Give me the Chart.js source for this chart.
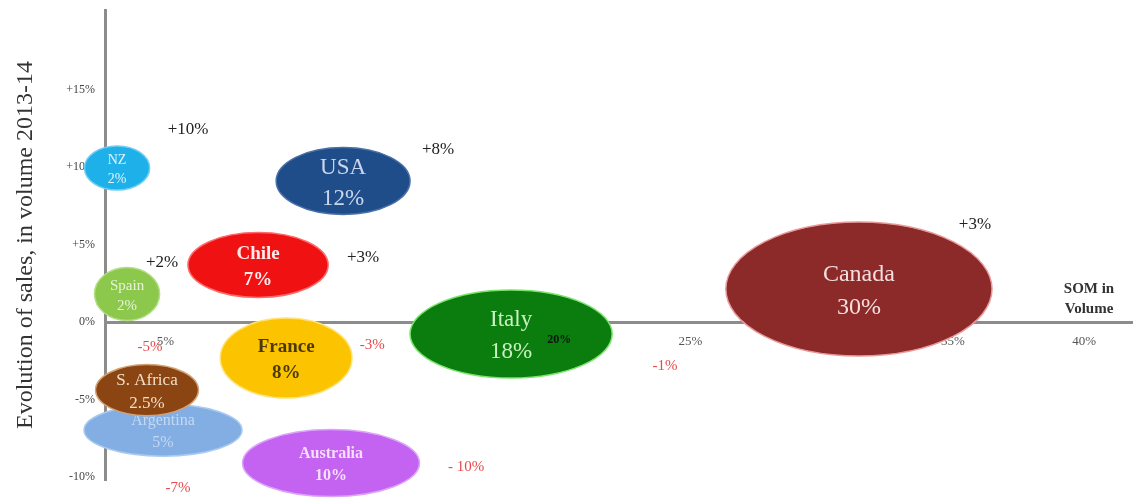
<!DOCTYPE html>
<html>
<head>
<meta charset="utf-8">
<script src="https://cdn.jsdelivr.net/npm/chart.js@4.4.1/dist/chart.umd.min.js"></script>
<style>
  html, body { margin: 0; padding: 0; background: #fff; }
</style>
</head>
<body>
<canvas id="somChart" width="1133" height="498"></canvas>
<script>
// ============================ data ============================

const countries    = ["NZ", "USA", "Chile", "Spain", "Italy", "Canada", "France", "Argentina", "S. Africa", "Australia"];
const shareLabels  = ["2%", "12%", "7%", "2%", "18%", "30%", "8%", "5%", "2.5%", "10%"];
const growthLabels = ["+10%", "+8%", "+3%", "+2%", "-1%", "+3%", "-3%", "-7%", "-5%", "- 10%"];

// bubble centre (SOM in volume, evolution in %) and half extents
const somX    = [3.16, 11.77, 8.53, 3.54, 18.17, 31.42, 9.6, 4.91, 4.3, 11.31];
const growthY = [9.94, 9.1, 3.68, 1.81, -0.77, 2.13, -2.32, -6.97, -4.39, -9.1];
const spanX   = [1.24, 2.55, 2.67, 1.24, 3.85, 5.07, 2.51, 3.01, 1.96, 3.37];
const spanY   = [1.42, 2.16, 2.10, 1.71, 2.84, 4.32, 2.58, 1.68, 1.65, 2.16];

const xTicks = [5, 20, 25, 35, 40];
const yTicks = [-10, -5, 0, 5, 10, 15];

// ============================ styles ============================

const SERIF = '"Liberation Serif", "DejaVu Serif", serif';
const fills      = ["#1eb0e8", "#1f4d8a", "#f01212", "#8cc84b", "#0b7d0f", "#8c2a2a", "#fcc400", "#82aee4", "#8a4512", "#c462f2"];
const edges      = ["#70ccf2", "#4a70a8", "#ff6a6a", "#b4de86", "#7ae46a", "#e89a9a", "#ffe27a", "#aacaf0", "#d4a274", "#dca6f8"];
const textColors = ["#dff3ff", "#c9d6ee", "#ffeaea", "#e6f3d8", "#c8f2c0", "#f6dede", "#4b3a05", "#c4d8f2", "#f3dfc9", "#f6e0fb"];
const fontSizes  = [14, 23, 19, 15, 23, 24, 19, 16, 17, 16];
const fontBold   = [false, false, true, false, false, false, true, false, false, true];
const labelDx    = [71, 95, 105, 35, 154, 116, 86, 15, 3, 135];
const labelDy    = [-38, -31, -7, -31, 32, -64, -13, 58, -43, 4];

// ============================ plugin: ellipses + notes ============================

const ellipsePlugin = {
  id: "ellipses",
  afterDatasetsDraw(chart) {
    const ctx = chart.ctx;
    const xs = chart.scales.x, ys = chart.scales.y;
    const meta = chart.getDatasetMeta(0);

    meta.data.forEach((pt, i) => {
      const rx = Math.abs(xs.getPixelForValue(somX[i] + spanX[i]) - pt.x);
      const ry = Math.abs(ys.getPixelForValue(growthY[i] + spanY[i]) - pt.y);
      ctx.save();
      ctx.beginPath();
      ctx.ellipse(pt.x, pt.y, rx, ry, 0, 0, Math.PI * 2);
      ctx.fillStyle = fills[i];
      ctx.fill();
      ctx.lineWidth = 1.5;
      ctx.strokeStyle = edges[i];
      ctx.stroke();

      const fs = fontSizes[i];
      const gap = fs * 1.35;
      ctx.font = (fontBold[i] ? "bold " : "") + fs + "px " + SERIF;
      ctx.fillStyle = textColors[i];
      ctx.textAlign = "center";
      ctx.textBaseline = "middle";
      ctx.fillText(countries[i], pt.x, pt.y - gap / 2 + 2);
      ctx.fillText(shareLabels[i], pt.x, pt.y + gap / 2 + 2);
      ctx.restore();
    });

    // growth notes next to each bubble
    meta.data.forEach((pt, i) => {
      const neg = growthLabels[i].startsWith("-");
      ctx.save();
      ctx.font = (neg ? "15px " : "17px ") + SERIF;
      ctx.fillStyle = neg ? "#e8484a" : "#222";
      ctx.textAlign = "center";
      ctx.textBaseline = "middle";
      ctx.fillText(growthLabels[i], pt.x + labelDx[i], pt.y + labelDy[i]);
      ctx.restore();
    });

    // the 20% tick sits on top of Italy in the original
    const y0 = ys.getPixelForValue(0);
    ctx.save();
    ctx.font = "bold 12px " + SERIF;
    ctx.fillStyle = "#111";
    ctx.textAlign = "center";
    ctx.textBaseline = "middle";
    ctx.fillText("20%", xs.getPixelForValue(20), y0 + 18);

    // axis name at the right end of the x axis
    ctx.font = "bold 15px " + SERIF;
    ctx.fillStyle = "#333";
    ctx.fillText("SOM in", xs.right - 44, y0 - 33);
    ctx.fillText("Volume", xs.right - 44, y0 - 13);
    ctx.restore();
  }
};

// ============================ chart ============================

new Chart(document.getElementById("somChart"), {
  type: "scatter",
  data: {
    datasets: [{
      data: somX.map((x, i) => ({ x: x, y: growthY[i] })),
      pointRadius: 0,
      pointHoverRadius: 0
    }]
  },
  options: {
    responsive: false,
    animation: false,
    events: [],
    layout: { padding: { left: 5, top: 10, right: 0, bottom: 18 } },
    plugins: { legend: { display: false }, tooltip: { enabled: false } },
    scales: {
      x: {
        type: "linear",
        position: { y: 0 },
        min: 2.7,
        max: 41.86,
        afterBuildTicks: s => { s.ticks = xTicks.map(v => ({ value: v })); },
        grid: { display: false, drawTicks: false },
        border: { display: true, color: "#8c8c8c", width: 3 },
        ticks: {
          padding: 12,
          color: "#555",
          font: { family: SERIF, size: 13 },
          callback: v => v + "%"
        }
      },
      y: {
        type: "linear",
        position: "left",
        min: -10.19,
        max: 20.13,
        afterFit: s => { s.width = 100; s.paddingTop = 0; s.paddingBottom = 0; },
        afterBuildTicks: s => { s.ticks = yTicks.map(v => ({ value: v })); },
        grid: { display: false, drawTicks: false },
        border: { display: true, color: "#8c8c8c", width: 3 },
        ticks: {
          padding: 10,
          color: "#444",
          font: { family: SERIF, size: 12 },
          callback: v => (v > 0 ? "+" : "") + v + "%"
        },
        title: {
          display: true,
          text: "Evolution of sales, in volume 2013-14",
          color: "#333",
          padding: { top: 6, bottom: 0 },
          font: { family: SERIF, size: 24 }
        }
      }
    }
  },
  plugins: [ellipsePlugin]
});
</script>
</body>
</html>
